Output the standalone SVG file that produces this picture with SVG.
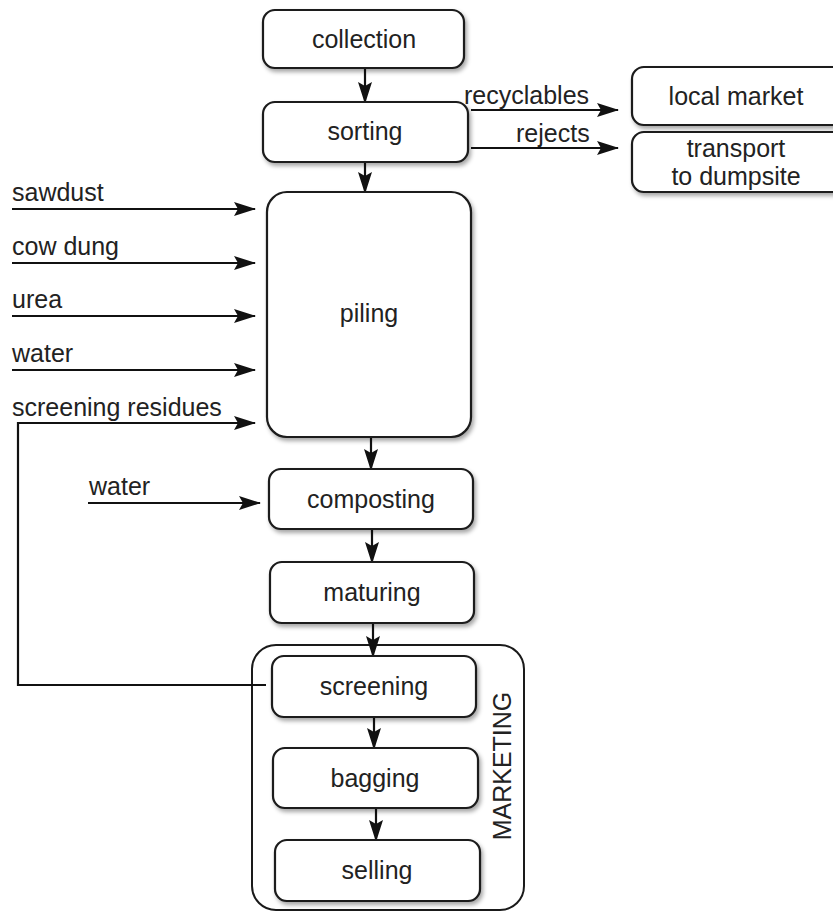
<svg xmlns="http://www.w3.org/2000/svg" width="833" height="914" viewBox="0 0 833 914">
<defs>
<filter id="sh" x="-10%" y="-10%" width="130%" height="130%">
<feDropShadow dx="2" dy="3" stdDeviation="2" flood-color="#000" flood-opacity="0.35"/>
</filter>
<marker id="ah" viewBox="0 0 22 14" refX="21" refY="7" markerWidth="22" markerHeight="14" markerUnits="userSpaceOnUse" orient="auto">
<path d="M0,0 L22,7 L0,14 L4,7 Z" fill="#111"/>
</marker>
<style>
.box{fill:#fff;stroke:#1a1a1a;stroke-width:2.2;filter:url(#sh)}
.t{font-family:"Liberation Sans",Arial,sans-serif;font-size:25px;fill:#222;text-anchor:middle}
.l{font-family:"Liberation Sans",Arial,sans-serif;font-size:25px;fill:#222}
.a{stroke:#111;stroke-width:2.2;fill:none;marker-end:url(#ah)}
</style>
</defs>
<rect width="833" height="914" fill="#fff"/>

<g id="marketing">
<rect x="252" y="645" width="272" height="265" rx="24" fill="#fff" stroke="#1a1a1a" stroke-width="2"/>
<text class="t" transform="translate(511,766) rotate(-90)" font-size="24">MARKETING</text>
</g>

<g id="connectors">
<line class="a" x1="365" y1="68" x2="365" y2="103"/>
<line class="a" x1="365" y1="162" x2="365" y2="193"/>
<line class="a" x1="471" y1="110" x2="618" y2="110"/>
<line class="a" x1="471" y1="148" x2="618" y2="148"/>
<line class="a" x1="12" y1="209" x2="255" y2="209"/>
<line class="a" x1="12" y1="263" x2="255" y2="263"/>
<line class="a" x1="12" y1="316" x2="255" y2="316"/>
<line class="a" x1="12" y1="370" x2="255" y2="370"/>
<polyline class="a" points="266,685 18,685 18,423 255,423"/>
<line class="a" x1="371" y1="437" x2="371" y2="470"/>
<line class="a" x1="88" y1="503" x2="260" y2="503"/>
<line class="a" x1="372" y1="529" x2="372" y2="563"/>
<line class="a" x1="373" y1="623" x2="373" y2="657"/>
<line class="a" x1="374" y1="717" x2="374" y2="749"/>
<line class="a" x1="376" y1="808" x2="376" y2="841"/>
<text class="l" x="464" y="104">recyclables</text>
<text class="l" x="516" y="142">rejects</text>
<text class="l" x="12" y="201">sawdust</text>
<text class="l" x="12" y="255">cow dung</text>
<text class="l" x="12" y="308">urea</text>
<text class="l" x="12" y="362">water</text>
<text class="l" x="12" y="416">screening residues</text>
<text class="l" x="89" y="495">water</text>
</g>

<g id="collection"><rect class="box" x="263" y="10" width="201" height="58" rx="12"/><text class="t" x="364" y="48">collection</text></g>
<g id="sorting"><rect class="box" x="263" y="102" width="205" height="60" rx="12"/><text class="t" x="365" y="140">sorting</text></g>
<g id="local-market"><rect class="box" x="632" y="67" width="215" height="58" rx="12"/><text class="t" x="736" y="105">local market</text></g>
<g id="transport"><rect class="box" x="632" y="132" width="215" height="60" rx="12"/><text class="t" x="736" y="157">transport</text><text class="t" x="736" y="185">to dumpsite</text></g>
<g id="piling"><rect class="box" x="267" y="192" width="204" height="245" rx="20"/><text class="t" x="369" y="322">piling</text></g>
<g id="composting"><rect class="box" x="269" y="469" width="204" height="60" rx="12"/><text class="t" x="371" y="508">composting</text></g>
<g id="maturing"><rect class="box" x="270" y="562" width="204" height="61" rx="12"/><text class="t" x="372" y="601">maturing</text></g>
<g id="screening"><rect class="box" x="272" y="656" width="204" height="61" rx="12"/><text class="t" x="374" y="695">screening</text></g>
<g id="bagging"><rect class="box" x="273" y="748" width="205" height="60" rx="12"/><text class="t" x="375" y="787">bagging</text></g>
<g id="selling"><rect class="box" x="275" y="840" width="205" height="61" rx="12"/><text class="t" x="377" y="879">selling</text></g>
</svg>
